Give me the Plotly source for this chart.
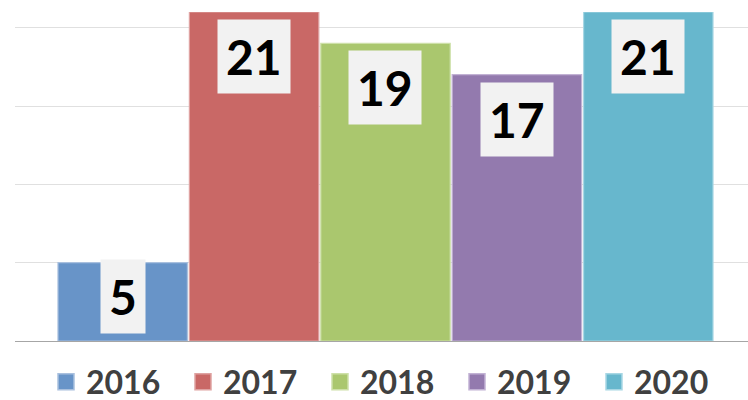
import plotly.graph_objects as go

years = ["2016", "2017", "2018", "2019", "2020"]
values = [5, 21, 19, 17, 21]
colors = ["#6894c8", "#c96866", "#aac76e", "#937aae", "#67b7cd"]
edge_colors = ["#a9c0de", "#dfa3a2", "#cde0a8", "#c2b2d4", "#a8d7e4"]

W, H = 748, 400
m_t, m_b, m_l, m_r = 12, 59, 15, 0
y_max = 21
plot_h = H - m_t - m_b
px_per_unit = plot_h / y_max
box_h = 74
pad = 7

fig = go.Figure()
for yr, v, c, ec in zip(years, values, colors, edge_colors):
    fig.add_trace(go.Bar(
        x=[yr], y=[v], name=yr, showlegend=False,
        marker=dict(color=c, line=dict(color=ec, width=1.2)),
        hoverinfo="skip",
    ))
    fig.add_trace(go.Scatter(
        x=[None], y=[None], name=yr, mode="markers",
        marker=dict(symbol="square", size=20, color=c, line=dict(color=ec, width=1.5)),
    ))

annotations = []
for i, v in enumerate(values):
    bar_px = v * px_per_unit
    if bar_px < box_h + 2 * pad:
        annotations.append(dict(x=i, y=0, yanchor="bottom", yshift=pad,
                                text=str(v), showarrow=False))
    else:
        annotations.append(dict(x=i, y=v, yanchor="top", yshift=-pad,
                                text=str(v), showarrow=False))
for a in annotations:
    a.update(font=dict(family="Lato", size=48, color="#000000", weight="bold"),
             bgcolor="#f2f2f2", borderpad=8, xanchor="center")

fig.update_layout(
    width=W, height=H,
    margin=dict(t=m_t, b=m_b, l=m_l, r=m_r, autoexpand=False),
    paper_bgcolor="white", plot_bgcolor="white",
    barmode="overlay", bargap=0.015,
    annotations=annotations,
    showlegend=True,
    legend=dict(orientation="h", x=0.5 + 7 / 733, xanchor="center",
                yref="container", y=18 / H, yanchor="middle",
                font=dict(family="Lato", size=32, color="#404040", weight="bold"),
                entrywidth=92, entrywidthmode="pixels", itemclick=False),
    xaxis=dict(type="category", range=[-0.8196, 4.7588], showticklabels=False,
               showgrid=False, zeroline=False, showline=True, linecolor="#a6a6a6",
               linewidth=1.3, ticks=""),
    yaxis=dict(range=[0, y_max], dtick=5, showticklabels=False, showgrid=True,
               gridcolor="#e0e0e0", gridwidth=1, zeroline=False, showline=False),
)

fig.write_html("out.html")
